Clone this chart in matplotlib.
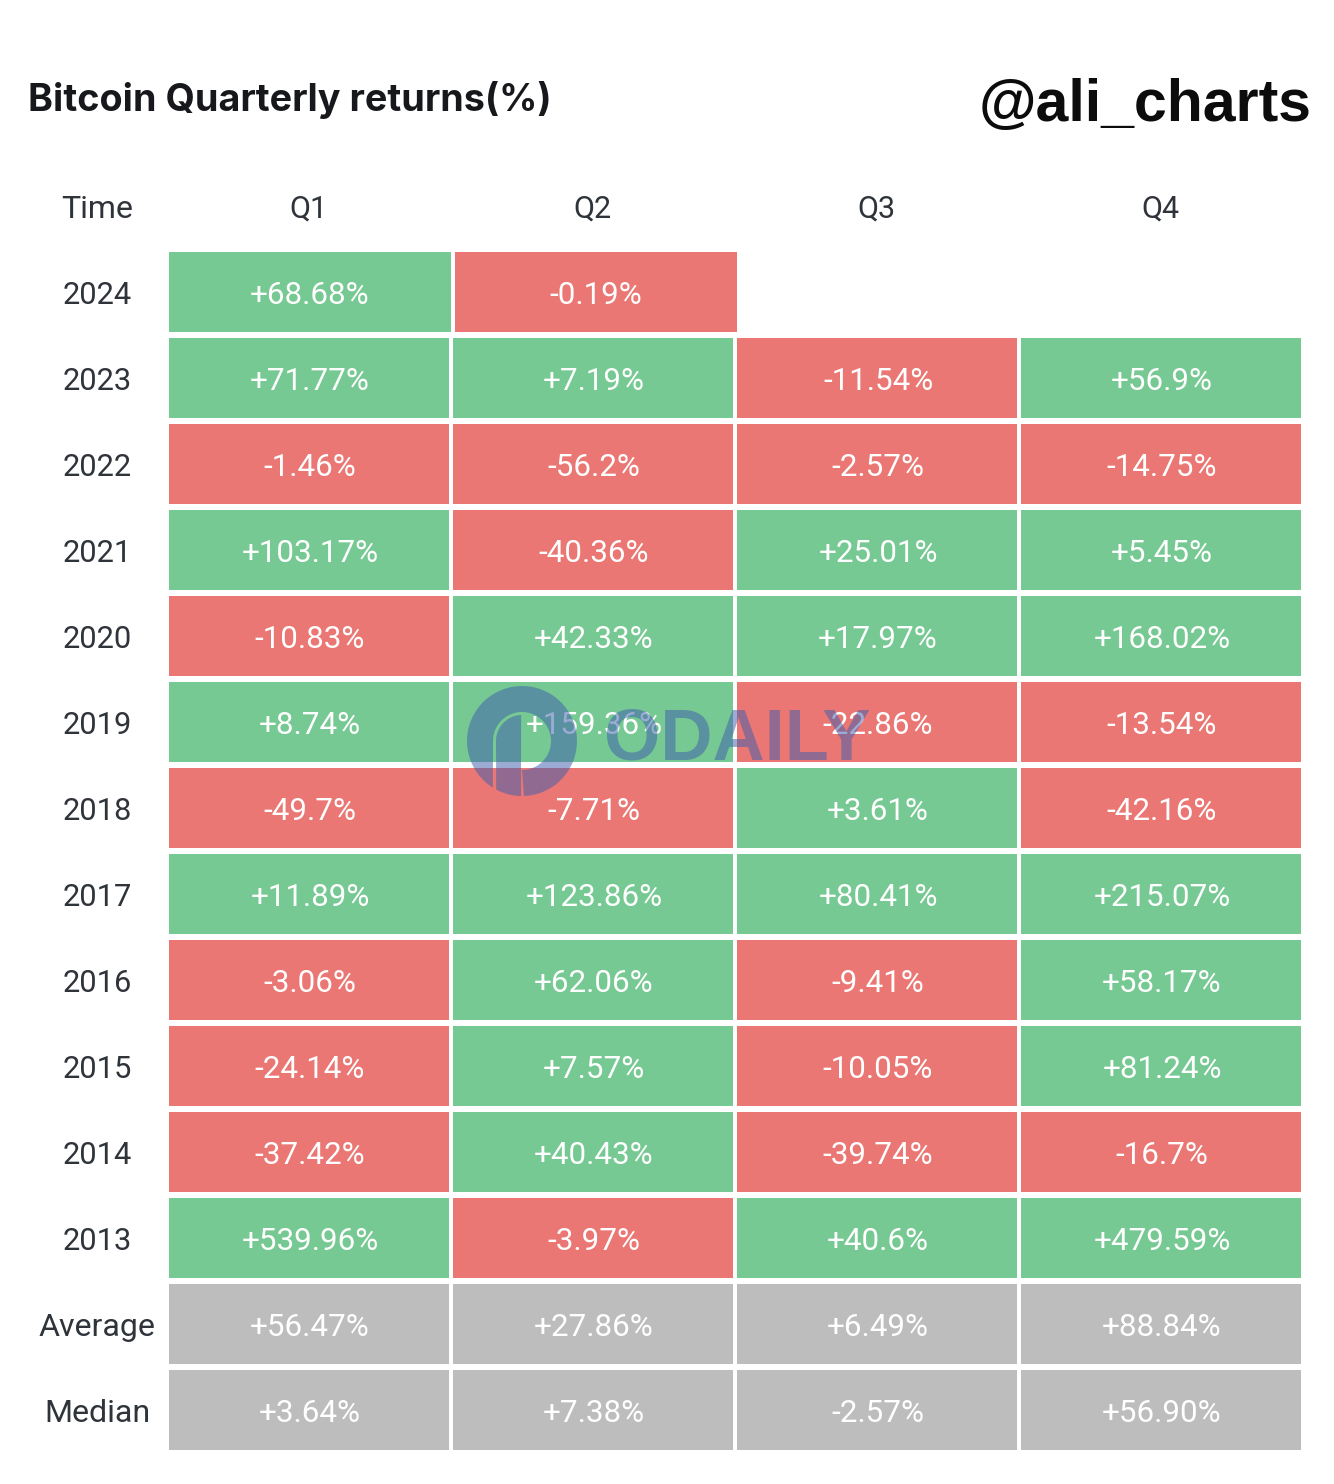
import numpy as np
import matplotlib
matplotlib.use('Agg')
import matplotlib.pyplot as plt
from matplotlib.patches import Rectangle, Polygon

years = ['2024', '2023', '2022', '2021', '2020', '2019', '2018', '2017', '2016', '2015', '2014', '2013']
quarters = ['Q1', 'Q2', 'Q3', 'Q4']
q1 = ['+68.68%', '+71.77%', '-1.46%', '+103.17%', '-10.83%', '+8.74%', '-49.7%', '+11.89%', '-3.06%', '-24.14%', '-37.42%', '+539.96%']
q2 = ['-0.19%', '+7.19%', '-56.2%', '-40.36%', '+42.33%', '+159.36%', '-7.71%', '+123.86%', '+62.06%', '+7.57%', '+40.43%', '-3.97%']
q3 = ['', '-11.54%', '-2.57%', '+25.01%', '+17.97%', '-22.86%', '+3.61%', '+80.41%', '-9.41%', '-10.05%', '-39.74%', '+40.6%']
q4 = ['', '+56.9%', '-14.75%', '+5.45%', '+168.02%', '-13.54%', '-42.16%', '+215.07%', '+58.17%', '+81.24%', '-16.7%', '+479.59%']
summary_names = ['Average', 'Median']
average = ['+56.47%', '+27.86%', '+6.49%', '+88.84%']
median = ['+3.64%', '+7.38%', '-2.57%', '+56.90%']

green = '#76c992'
red = '#ea7773'
gray = '#bdbdbd'
dark = '#2f343b'
font = 'Roboto'

fig = plt.figure(figsize=(13.34, 14.84), dpi=100)
ax = fig.add_axes([0, 0, 1, 1])
ax.set_xlim(0, 1334)
ax.set_ylim(1484, 0)
ax.axis('off')

ax.text(28, 100, 'Bitcoin Quarterly returns(%)', fontsize=27.2, fontweight='bold', family='Inter',
        color='#17181c', ha='left', va='center')
ax.text(1312, 106, '@ali_charts', fontsize=42.5, fontweight='bold', family='Liberation Sans',
        color='#0c0c0c', ha='right', va='center')

# grid layout in pixels
col_w = 284
row_h = 86
x0 = 169
y0 = 252


def cell(col, row, label, color, shift=0, wid=280):
    x = x0 + col * col_w + shift
    y = y0 + row * row_h
    ax.add_patch(Rectangle((x, y), wid, 80, color=color, lw=0, zorder=1))
    ax.text(x + 141, y + 43, label, fontsize=22.6, family=font, color='white', ha='center', va='center', zorder=2)


ax.text(97, 209, 'Time', fontsize=23, family=font, color=dark, ha='center', va='center')
for c, q in enumerate(quarters):
    ax.text(x0 + 139 + c * col_w, 209, q, fontsize=22, family=font, color=dark, ha='center', va='center')

columns = [q1, q2, q3, q4]
for r, year in enumerate(years):
    ax.text(97, y0 + r * row_h + 43, year, fontsize=22.2, family=font, color=dark, ha='center', va='center')
    for c, col in enumerate(columns):
        label = col[r]
        if label == '':
            continue
        color = green if label.startswith('+') else red
        if r == 0:
            # the first row is a bit wider and sits 2px to the right
            cell(c, r, label, color, shift=c * 2, wid=282)
        else:
            cell(c, r, label, color)

for n, (name, vals) in enumerate(zip(summary_names, [average, median])):
    r = len(years) + n
    ax.text(97, y0 + r * row_h + 43, name, fontsize=23.1, family=font, color=dark, ha='center', va='center')
    for c, v in enumerate(vals):
        cell(c, r, v, gray)


# watermark
def arc(cx, cy, rad, a, b):
    t = np.radians(np.linspace(a, b, 80))
    return np.column_stack([cx + rad * np.cos(t), cy + rad * np.sin(t)])


wm = '#3f5fae'
body = np.vstack([arc(522, 741, 55, 122, 448), arc(522, 741, 29, 450, 180)])
stem = np.vstack([arc(522, 741, 26, 180, 268), arc(522, 741, 55, 91, 118)])
ax.add_patch(Polygon(body, closed=True, color=wm, alpha=0.52, lw=0, zorder=3))
ax.add_patch(Polygon(stem, closed=True, color=wm, alpha=0.52, lw=0, zorder=3))
ax.text(737, 741, 'ODAILY', fontsize=52, fontweight='bold', family=['Liberation Sans Narrow', 'Liberation Sans'],
        color=wm, alpha=0.52, ha='center', va='center', zorder=3)

fig.savefig('out.png', dpi=100)
